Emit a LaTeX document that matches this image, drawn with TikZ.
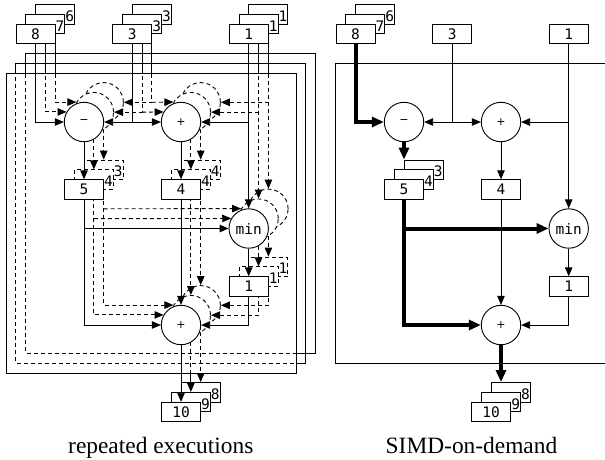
\documentclass[tikz,border=0pt]{standalone}
\usepackage{fontspec}
\setmainfont{Liberation Serif}
\newfontfamily\monof{DejaVu Sans Mono}
\newfontfamily\dvsf{DejaVu Sans}
\usetikzlibrary{arrows.meta}
\tikzset{
  bx/.style={rectangle, minimum width=39pt, minimum height=19.5pt, inner sep=0pt},
  cr/.style={circle, minimum size=39.4pt, inner sep=0pt},
  ar/.style={-{Triangle[length=9pt,width=7.5pt]}},
  thk/.style={line width=4pt, -{Triangle[length=12pt,width=10pt]}},
  hid/.style={dash pattern=on 4pt off 3pt},
  lab/.style={font=\monof\fontsize{14.5}{16}\selectfont, inner sep=0pt},
  blab/.style={font=\monof\fontsize{14.5}{16}\selectfont, inner sep=0.5pt, anchor=east},
  sym/.style={font=\dvsf\fontsize{11}{12}\selectfont, inner sep=0pt},
  captext/.style={font=\fontsize{23.4}{26}\selectfont, anchor=base, inner sep=0pt},
}
\newcommand\nodesL[2]{%
  \begin{scope}[shift={(9.85*#1,-9.85*#1)}]
    \node[bx,#2] (A#1) at (35.5,34) {};
    \node[bx,#2] (B#1) at (132.2,34) {};
    \node[bx,#2] (C#1) at (248.7,34) {};
    \node[cr,#2] (M#1) at (84,122) {};
    \node[cr,#2] (P#1) at (181,122) {};
    \node[cr,#2] (N#1) at (248.7,228.5) {};
    \node[cr,#2] (Q#1) at (181,325) {};
    \node[bx,#2] (E#1) at (84,189.5) {};
    \node[bx,#2] (F#1) at (181,189.5) {};
    \node[bx,#2] (G#1) at (248.7,286.5) {};
    \node[bx,#2] (H#1) at (181,412) {};
  \end{scope}}
\newcommand\edgesL[3]{%
  \draw[ar] (A#1.south) |- (M#2.#3);
  \draw[ar] (B#1.south) |- (M#1.east);
  \draw[ar] (B#1.south |- M#1.east) -- (P#2.#3);
  \draw[ar] (C#1.south) |- (P#1.east);
  \draw[ar] (C#1.south) -- (N#1.north);
  \draw[ar] (M#1.south) -- (E#1.north);
  \draw[ar] (P#1.south) -- (F#1.north);
  \draw[ar] (N#1.south) -- (G#1.north);
  \draw[ar] (E#1.south) |- (Q#2.#3);
  \draw[ar] (E#1.south |- N#1.east) -- (N#2.#3);
  \draw[ar] (F#1.south) -- (Q#1.north);
  \draw[ar] (G#1.south) |- (Q#1.east);
  \draw[ar] (Q#1.south) -- (H#1.north);}
\newcommand\passL[3]{%
  \begin{scope}[shift={(9.85*#1,-9.85*#1)}]\draw (6,73) rectangle (296,373);\end{scope}
  \edgesL{#1}{#2}{#3}
  \nodesL{#1}{draw, fill=white}}
\newcommand\bl[2]{\node[blab] at ([yshift=-1.8pt]#1.east) {#2};}
\begin{document}
\begin{tikzpicture}[x=1pt,y=-1pt,line width=0.9pt]
\useasboundingbox (0,0) rectangle (605,459);
\clip (0,0) rectangle (605,459);
% predefine node names
\nodesL{0}{}
\nodesL{1}{}
\nodesL{2}{}
% layer 2 (back)
\begin{scope}
  \clip (6,73) rectangle (296,373);
  \begin{scope}[hid]\passL{2}{1}{150}\end{scope}
\end{scope}
\begin{scope}
  \clip (-20,-20) rectangle (640,480) (296,73) rectangle (6,373);
  \passL{2}{1}{150}
\end{scope}
% layer 1
\begin{scope}
  \clip (6,73) rectangle (296,373);
  \begin{scope}[hid]\passL{1}{0}{150}\end{scope}
\end{scope}
\begin{scope}
  \clip (-20,-20) rectangle (640,480) (296,73) rectangle (6,373);
  \passL{1}{0}{150}
\end{scope}
% layer 0 (front)
\passL{0}{0}{west}
% labels left
\node[lab] at (A0) {8};
\node[lab] at (B0) {3};
\node[lab] at (C0) {1};
\node[lab] at (E0) {5};
\node[lab] at (F0) {4};
\node[lab] at (G0) {1};
\node[lab] at (H0) {10};
\node[sym] at (M0) {−};
\node[sym] at (P0) {+};
\node[lab] at (N0) {min};
\node[sym] at (Q0) {+};
\bl{A1}{7}\bl{A2}{6}
\bl{B1}{3}\bl{B2}{3}
\bl{C1}{1}\bl{C2}{1}
\bl{E1}{4}\bl{E2}{3}
\bl{F1}{4}\bl{F2}{4}
\bl{G1}{1}\bl{G2}{1}
\bl{H1}{9}\bl{H2}{8}
% right diagram
\draw (335.85,63.15) rectangle (625.85,363.15);
\node[bx,draw,fill=white] (rA2) at (375.2,14.3) {};
\node[bx,draw,fill=white] (rA1) at (365.35,24.15) {};
\node[bx,draw,fill=white] (rA0) at (355.5,34) {};
\node[bx,draw,fill=white] (rB) at (452.2,34) {};
\node[bx,draw,fill=white] (rC) at (568.7,34) {};
\node[cr,draw] (rM) at (404,122) {};
\node[cr,draw] (rP) at (501,122) {};
\node[cr,draw] (rN) at (568.7,228.5) {};
\node[cr,draw] (rQ) at (501,325) {};
\node[bx,draw,fill=white] (rE2) at (423.7,169.8) {};
\node[bx,draw,fill=white] (rE1) at (413.85,179.65) {};
\node[bx,draw,fill=white] (rE0) at (404,189.5) {};
\node[bx,draw] (rF) at (501,189.5) {};
\node[bx,draw] (rG) at (568.7,286.5) {};
\node[bx,draw,fill=white] (rH2) at (510.9,392.3) {};
\node[bx,draw,fill=white] (rH1) at (501.05,402.15) {};
\node[bx,draw,fill=white] (rH0) at (491.2,412) {};
\draw[thk] (rA0.south) |- (rM.west);
\draw[ar] (rB.south) |- (rM.east);
\draw[ar] (rB.south |- rM.east) -- (rP.west);
\draw[ar] (rC.south) |- (rP.east);
\draw[ar] (rC.south) -- (rN.north);
\draw[thk] (rM.south) -- (rM.south |- rE2.north);
\draw[ar] (rP.south) -- (rF.north);
\draw[ar] (rN.south) -- (rG.north);
\draw[thk] (rE0.south) |- (rQ.west);
\draw[thk] (rE0.south |- rN.west) -- (rN.west);
\draw[ar] (rF.south) -- (rQ.north);
\draw[ar] (rG.south) |- (rQ.east);
\draw[thk] (rQ.south) -- (rQ.south |- rH2.north);
\node[lab] at (rA0) {8};
\node[lab] at (rB) {3};
\node[lab] at (rC) {1};
\node[lab] at (rE0) {5};
\node[lab] at (rF) {4};
\node[lab] at (rG) {1};
\node[lab] at (rH0) {10};
\node[sym] at (rM) {−};
\node[sym] at (rP) {+};
\node[lab] at (rN) {min};
\node[sym] at (rQ) {+};
\bl{rA1}{7}\bl{rA2}{6}
\bl{rE1}{4}\bl{rE2}{3}
\bl{rH1}{9}\bl{rH2}{8}
% captions
\node[captext] (cap1) at (160.8,453.3) {repeated executions};
\node[captext] (cap2) at (471.5,453.3) {SIMD-on-demand};
\end{tikzpicture}
\end{document}
